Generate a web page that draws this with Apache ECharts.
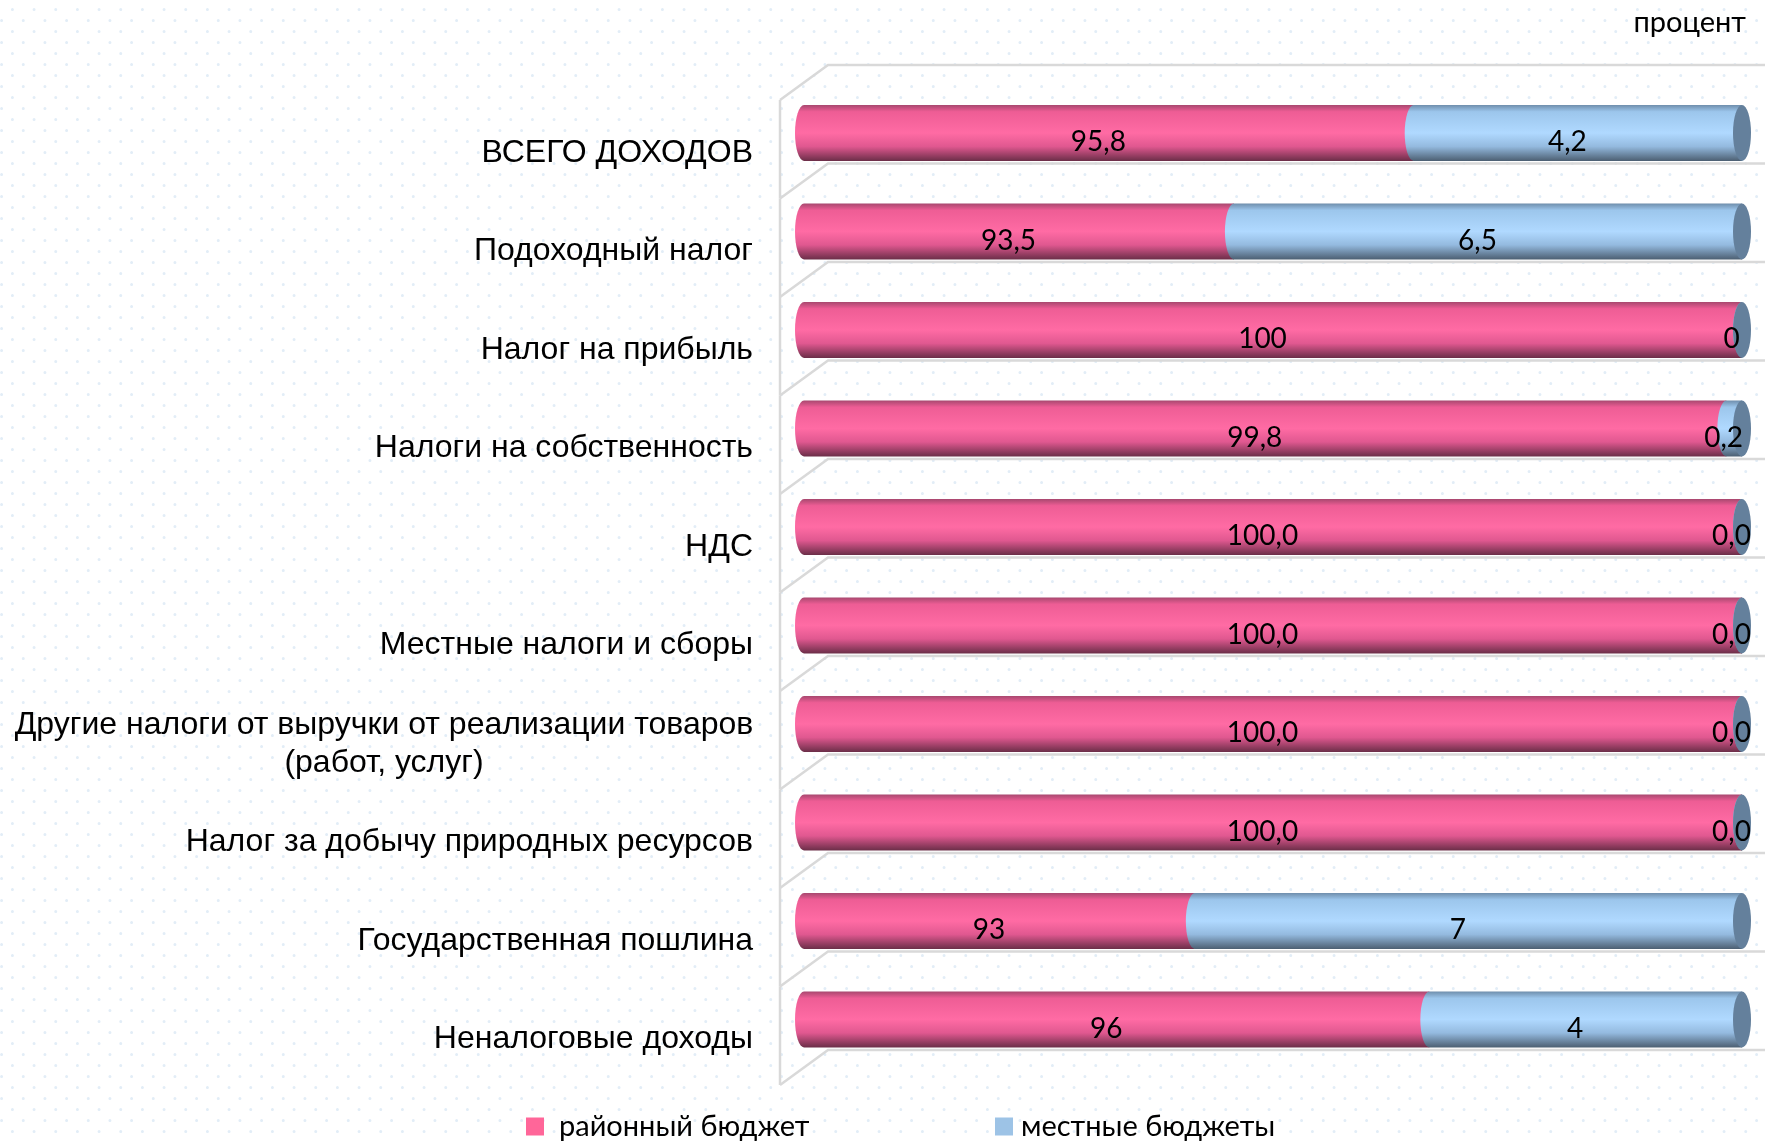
<!DOCTYPE html>
<html>
<head>
<meta charset="utf-8">
<style>html,body{margin:0;padding:0;background:#fff}#chart{width:1765px;height:1141px}</style>
<script src="https://cdn.jsdelivr.net/npm/echarts@6/dist/echarts.min.js"></script>
</head>
<body>
<div id="chart"></div>
<script>
var categories = ['ВСЕГО ДОХОДОВ', 'Подоходный налог', 'Налог на прибыль', 'Налоги на собственность', 'НДС',
	'Местные налоги и сборы', 'Другие налоги от выручки от реализации товаров\n(работ, услуг)',
	'Налог за добычу природных ресурсов', 'Государственная пошлина', 'Неналоговые доходы'];
var districtValues = [95.8, 93.5, 100, 99.8, 100, 100, 100, 100, 93, 96];
var localValues = [4.2, 6.5, 0, 0.2, 0, 0, 0, 0, 7, 4];
var districtLabels = ['95,8', '93,5', '100', '99,8', '100,0', '100,0', '100,0', '100,0', '93', '96'];
var localLabels = ['4,2', '6,5', '0', '0,2', '0,0', '0,0', '0,0', '0,0', '7', '4'];
var seriesNames = ['районный бюджет', 'местные бюджеты'];

var chart = echarts.init(document.getElementById('chart'));
var labelFont = 'Lato, "Noto Sans", sans-serif';
var rx = 9, halfBar = 28, axisMin = 88;

function gradient(stops) {
	return new echarts.graphic.LinearGradient(0, 0, 0, 1, stops.map(function (s) {
		return { offset: s[0], color: s[1] };
	}));
}
var pinkFill = [[0, '#a8486f'], [0.12, '#ee5d95'], [0.5, '#ff6ba4'], [0.74, '#e05890'], [1, '#6b2e48']];
var blueFill = [[0, '#6f8eac'], [0.12, '#9cc6ec'], [0.5, '#b0d9ff'], [0.74, '#94badf'], [1, '#4c5f72']];

// dotted page background
function dotTile() {
	var c = document.createElement('canvas');
	c.width = 65; c.height = 22;
	var g = c.getContext('2d');
	g.fillStyle = '#fff';
	g.fillRect(0, 0, 65, 22);
	g.fillStyle = '#e2edf7';
	for (var i = 0; i < 3; i++) {
		g.beginPath();
		g.arc(1.6 + i * 65 / 3, 20.5, 1.5, 0, Math.PI * 2);
		g.arc(12.4 + i * 65 / 3, 9.5, 1.5, 0, Math.PI * 2);
		g.fill();
	}
	return c;
}

// side wall and floor lines behind the bars
function renderWall(params, api) {
	var c = api.coord([axisMin, api.value(0)]);
	var xl = c[0] - 24, xr = c[0] + 24, right = api.getWidth();
	var line = { stroke: '#d9d9d9', lineWidth: 2.5, fill: null };
	var children = [{
		type: 'polyline',
		shape: { points: [[xl, c[1] + 65.5], [xr, c[1] + 30.5], [right, c[1] + 30.5]] },
		style: line
	}, {
		type: 'line',
		shape: { x1: xl, y1: c[1] - 33, x2: xl, y2: c[1] + 65.5 },
		style: line
	}];
	if (params.dataIndex === 0) {
		children.push({
			type: 'polyline',
			shape: { points: [[xl, c[1] - 33], [xr, c[1] - 68], [right, c[1] - 68]] },
			style: line
		});
	}
	return { type: 'group', children: children };
}

function cylinderPath(x0, x1, y) {
	var top = y - halfBar, bot = y + halfBar;
	return 'M' + x0 + ' ' + top + 'L' + x1 + ' ' + top +
		'L' + x1 + ' ' + bot + 'L' + x0 + ' ' + bot +
		'A' + rx + ' ' + halfBar + ' 0 0 1 ' + x0 + ' ' + top + 'Z';
}

function renderSegment(fill, labels, withCap) {
	return function (params, api) {
		var a = api.coord([api.value(0), api.value(2)]);
		var b = api.coord([api.value(1), api.value(2)]);
		var children = [{
			type: 'path',
			shape: { pathData: cylinderPath(a[0], b[0], a[1]) },
			style: { fill: gradient(fill) }
		}];
		if (withCap) {
			children.push({
				type: 'path',
				shape: {
					pathData: 'M' + b[0] + ' ' + (b[1] - halfBar) +
						'A' + rx + ' ' + halfBar + ' 0 0 1 ' + b[0] + ' ' + (b[1] + halfBar) +
						'A' + rx + ' ' + halfBar + ' 0 0 1 ' + b[0] + ' ' + (b[1] - halfBar) + 'Z'
				},
				style: { fill: '#64809c' }
			});
		}
		children.push({
			type: 'text',
			z2: 10,
			style: {
				text: labels[params.dataIndex],
				x: (a[0] + b[0]) / 2 - 10.5,
				y: a[1] + 9,
				align: 'center',
				verticalAlign: 'middle',
				fill: '#000',
				font: '28px ' + labelFont
			}
		});
		return { type: 'group', children: children };
	};
}

var districtData = districtValues.map(function (v, i) { return [axisMin, v, i]; });
var localData = localValues.map(function (v, i) { return [districtValues[i], districtValues[i] + v, i]; });

var option = {
	animation: false,
	backgroundColor: { image: dotTile(), repeat: 'repeat' },
	title: {
		text: 'процент',
		right: 14,
		top: 3,
		textStyle: { fontFamily: labelFont, fontSize: 29, fontWeight: 'normal', color: '#000' }
	},
	legend: [{
		data: [seriesNames[0]],
		left: 526,
		top: 1112,
		padding: 0,
		icon: 'rect',
		itemWidth: 18,
		itemHeight: 18,
		textStyle: { fontFamily: labelFont, fontSize: 29, color: '#000', padding: [0, 0, 0, 10] }
	}, {
		data: [seriesNames[1]],
		left: 995,
		top: 1112,
		padding: 0,
		icon: 'rect',
		itemWidth: 18,
		itemHeight: 18,
		textStyle: { fontFamily: labelFont, fontSize: 29, color: '#000', padding: [0, 0, 0, 3] }
	}],
	grid: { left: 804, right: 23, top: 83.75, height: 985 },
	xAxis: { type: 'value', min: axisMin, max: 100, show: false },
	yAxis: {
		type: 'category',
		inverse: true,
		data: categories,
		axisLine: { show: false },
		axisTick: { show: false },
		splitLine: { show: false },
		axisLabel: {
			interval: 0,
			margin: 51,
			color: '#000',
			fontFamily: 'Liberation Sans',
			fontSize: 32,
			lineHeight: 38,
			padding: [40, 0, 0, 0],
			formatter: function (v) {
				if (v.indexOf('\n') < 0) return v;
				return v.split('\n').map(function (s) { return '{wide|' + s + '}'; }).join('\n');
			},
			rich: {
				wide: { width: 738, align: 'center', fontFamily: 'Liberation Sans', fontSize: 32, lineHeight: 38, color: '#000' }
			}
		}
	},
	series: [{
		name: 'wall',
		type: 'custom',
		z: 1,
		silent: true,
		renderItem: renderWall,
		encode: { x: 1, y: 0 },
		data: categories.map(function (c, i) { return [i, axisMin]; })
	}, {
		name: seriesNames[0],
		type: 'custom',
		z: 2,
		itemStyle: { color: '#ff6699' },
		renderItem: renderSegment(pinkFill, districtLabels, false),
		encode: { x: [0, 1], y: 2 },
		data: districtData
	}, {
		name: seriesNames[1],
		type: 'custom',
		z: 3,
		itemStyle: { color: '#9dc3e6' },
		renderItem: renderSegment(blueFill, localLabels, true),
		encode: { x: [0, 1], y: 2 },
		data: localData
	}]
};
chart.setOption(option);
</script>
</body>
</html>
